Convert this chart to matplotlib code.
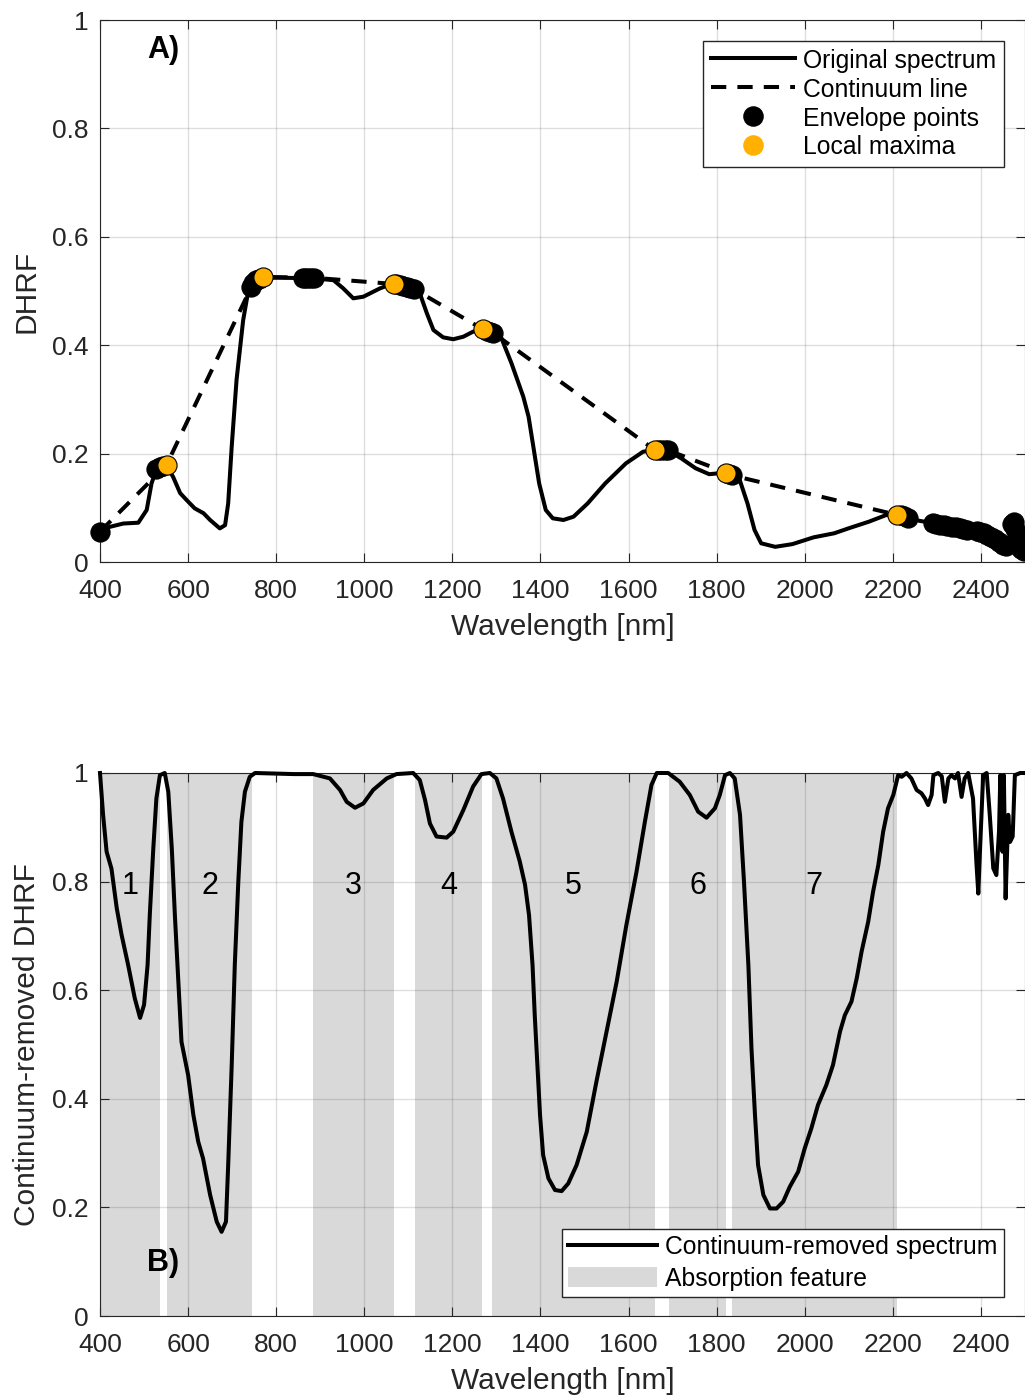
import matplotlib
matplotlib.use("Agg")
import matplotlib.pyplot as plt
from matplotlib.patches import Patch
from matplotlib.lines import Line2D

plt.rcParams["font.family"] = ["Liberation Sans", "DejaVu Sans"]
plt.rcParams["lines.scale_dashes"] = False

# ---------------- data ----------------
# Original spectrum (wavelength in nm, DHRF)
wl_orig = [400, 423, 453, 487, 506, 517, 529, 551, 566, 582, 597, 615, 635, 650,
           672, 684, 691, 699, 710, 725, 737, 748, 771, 809, 884, 930, 952, 975,
           998, 1036, 1066, 1111, 1126, 1142, 1157, 1179, 1202, 1225, 1247, 1270,
           1286, 1310, 1334, 1361, 1373, 1385, 1397, 1412, 1428, 1452, 1475, 1507,
           1547, 1594, 1633, 1660, 1688, 1720, 1752, 1783, 1822, 1850, 1870, 1886,
           1901, 1933, 1972, 2020, 2067, 2099, 2146, 2185, 2209, 2235, 2260, 2290,
           2320, 2350, 2370, 2390, 2400, 2420, 2430, 2445, 2460, 2474, 2485, 2500]
dhrf = [0.056, 0.065, 0.071, 0.0725, 0.096, 0.145, 0.173, 0.179, 0.157, 0.127,
        0.114, 0.099, 0.090, 0.0775, 0.062, 0.068, 0.108, 0.213, 0.336, 0.446,
        0.502, 0.517, 0.5245, 0.5245, 0.5234, 0.520, 0.505, 0.4865, 0.4895, 0.505,
        0.514, 0.505, 0.496, 0.459, 0.428, 0.4145, 0.411, 0.4157, 0.425, 0.4293,
        0.425, 0.4157, 0.367, 0.305, 0.268, 0.2066, 0.145, 0.096, 0.0806, 0.0775,
        0.0836, 0.108, 0.145, 0.182, 0.2035, 0.2066, 0.2066, 0.191, 0.173, 0.162,
        0.165, 0.157, 0.108, 0.059, 0.0345, 0.028, 0.033, 0.0455, 0.053, 0.062,
        0.0745, 0.0867, 0.0867, 0.082, 0.076, 0.072, 0.066, 0.064, 0.058, 0.045,
        0.056, 0.050, 0.040, 0.035, 0.030, 0.072, 0.026, 0.020]

# Continuum (upper hull) vertices
cont_wl = [400, 551, 748, 769, 885, 1067, 1112, 1270, 1292, 1659, 1690, 1822,
           1834, 2209, 2235, 2290, 2352, 2398, 2456, 2474, 2498]
cont_val = [0.056, 0.179, 0.515, 0.526, 0.5244, 0.513, 0.504, 0.429, 0.423,
            0.207, 0.206, 0.165, 0.160, 0.087, 0.082, 0.072, 0.063, 0.056,
            0.030, 0.074, 0.020]

# Envelope points
env_wl = [400, 528, 536, 544, 742, 748, 755, 762, 860, 866, 872, 878, 885,
          1072, 1080, 1088, 1096, 1104, 1112, 1278, 1285, 1292, 1666, 1674,
          1682, 1690, 1828, 1834, 2218, 2226, 2235, 2290, 2298, 2306, 2316,
          2324, 2334, 2344, 2352, 2360, 2368, 2390, 2398, 2406, 2414, 2422,
          2432, 2442, 2450, 2456, 2470, 2474, 2478, 2482, 2486, 2492, 2498]
env_val = [0.056, 0.172, 0.176, 0.178, 0.508, 0.515, 0.520, 0.523, 0.5245,
           0.5245, 0.5245, 0.5245, 0.5244, 0.512, 0.511, 0.509, 0.507, 0.506,
           0.504, 0.427, 0.425, 0.423, 0.207, 0.207, 0.207, 0.206, 0.162, 0.160,
           0.086, 0.084, 0.082, 0.072, 0.071, 0.069, 0.068, 0.066, 0.065, 0.064,
           0.063, 0.061, 0.059, 0.058, 0.056, 0.054, 0.050, 0.046, 0.042, 0.036,
           0.032, 0.030, 0.070, 0.074, 0.060, 0.045, 0.030, 0.024, 0.020]

# Local maxima
max_wl = [551, 769, 1067, 1270, 1659, 1822, 2209]
max_val = [0.179, 0.526, 0.513, 0.429, 0.207, 0.165, 0.087]

# Continuum-removed spectrum
cr_wl = [400, 407, 415, 426, 438, 449, 464, 479, 491, 500, 508, 513, 521, 528,
         536, 547, 555, 563, 570, 578, 585, 600, 612, 623, 634, 650, 665, 676,
         686, 691, 699, 706, 714, 721, 729, 740, 752, 840, 884, 922, 945, 960,
         979, 998, 1020, 1051, 1073, 1111, 1126, 1138, 1149, 1164, 1187, 1202,
         1225, 1247, 1266, 1285, 1300, 1315, 1334, 1353, 1365, 1374, 1382, 1387,
         1393, 1399, 1406, 1418, 1433, 1448, 1463, 1482, 1505, 1527, 1550, 1573,
         1595, 1618, 1637, 1652, 1664, 1690, 1716, 1739, 1758, 1777, 1796, 1807,
         1819, 1830, 1841, 1853, 1862, 1872, 1879, 1887, 1894, 1906, 1921, 1936,
         1951, 1966, 1985, 2000, 2015, 2030, 2049, 2064, 2080, 2091, 2106, 2118,
         2129, 2144, 2155, 2167, 2178, 2189, 2201, 2212, 2220, 2231, 2242, 2254,
         2265, 2273, 2280, 2288, 2292, 2303, 2311, 2318, 2326, 2333, 2341, 2348,
         2356, 2363, 2371, 2382, 2390, 2394, 2398, 2405, 2413, 2420, 2428, 2435,
         2441, 2444, 2449, 2452, 2456, 2462, 2466, 2472, 2477, 2489, 2500]
cr_val = [1.0, 0.923, 0.855, 0.824, 0.751, 0.702, 0.646, 0.585, 0.549, 0.573,
          0.646, 0.738, 0.861, 0.953, 0.996, 1.0, 0.9655, 0.861, 0.738, 0.6157,
          0.505, 0.444, 0.370, 0.321, 0.290, 0.223, 0.1737, 0.155, 0.1737, 0.278,
          0.462, 0.646, 0.800, 0.910, 0.9655, 0.993, 1.0, 0.998, 0.998, 0.990,
          0.9687, 0.947, 0.936, 0.944, 0.9687, 0.990, 0.998, 1.0, 0.987, 0.950,
          0.907, 0.883, 0.881, 0.892, 0.932, 0.975, 0.998, 1.0, 0.990, 0.953,
          0.892, 0.837, 0.794, 0.7385, 0.646, 0.554, 0.462, 0.370, 0.2965,
          0.2536, 0.232, 0.230, 0.244, 0.278, 0.339, 0.4315, 0.5236, 0.6157,
          0.720, 0.818, 0.910, 0.978, 1.0, 1.0, 0.984, 0.9595, 0.9287, 0.9177,
          0.935, 0.9595, 0.996, 1.0, 0.990, 0.923, 0.800, 0.646, 0.493, 0.370,
          0.278, 0.223, 0.198, 0.198, 0.2105, 0.238, 0.2657, 0.309, 0.3457,
          0.3886, 0.4254, 0.462, 0.5236, 0.554, 0.579, 0.622, 0.671, 0.726,
          0.781, 0.8306, 0.892, 0.935, 0.9595, 0.996, 0.993, 1.0, 0.990, 0.9687,
          0.9626, 0.953, 0.941, 0.9595, 0.996, 1.0, 0.994, 0.947, 0.990, 0.996,
          0.990, 1.0, 0.956, 0.990, 1.0, 0.953, 0.8306, 0.778, 0.861, 0.996,
          1.0, 0.923, 0.8245, 0.812, 0.892, 0.996, 0.855, 0.996, 0.769, 0.923,
          0.873, 0.883, 0.996, 1.0, 1.0]

# Absorption features (start, end in nm)
feat_start = [400, 551, 884, 1115, 1290, 1691, 1834]
feat_end = [536, 746, 1068, 1267, 1660, 1822, 2209]
feat_labels = ["1", "2", "3", "4", "5", "6", "7"]

# ---------------- styling ----------------
AX_COL = "#262626"
ORANGE = "#FFB000"
GRAY = "#d9d9d9"
TICK_FS = 19
LABEL_FS = 21.5
LEG_FS = 17.8
LW = 2.9

fig = plt.figure(figsize=(10.25, 13.96), dpi=100)
axA = fig.add_axes([100 / 1025, 1 - 562 / 1396, 925 / 1025, 542 / 1396])
axB = fig.add_axes([100 / 1025, 1 - 1316 / 1396, 925 / 1025, 543 / 1396])


def style_axes(ax):
    ax.set_xlim(400, 2500)
    ax.set_ylim(0, 1)
    ax.set_xticks(range(400, 2401, 200))
    ax.set_yticks([0, 0.2, 0.4, 0.6, 0.8, 1])
    ax.set_yticklabels(["0", "0.2", "0.4", "0.6", "0.8", "1"])
    ax.grid(True, color=AX_COL, alpha=0.15, lw=1)
    ax.set_axisbelow("line")
    ax.tick_params(direction="in", length=6.5, width=0.8, top=True, right=True,
                   labelsize=TICK_FS, colors=AX_COL)
    ax.tick_params(axis="x", pad=12.5)
    ax.tick_params(axis="y", pad=8)
    for s in ax.spines.values():
        s.set_color(AX_COL)
        s.set_linewidth(0.8)
    ax.set_xlabel("Wavelength [nm]", fontsize=LABEL_FS, color=AX_COL)
    ax.xaxis.set_label_coords(0.5, -0.094)


def make_legend(ax, handles, labels, anchor, borderpad, labelspacing,
                handlelength):
    leg = ax.legend(handles, labels, loc="upper right", bbox_to_anchor=anchor,
                    borderaxespad=0, fontsize=LEG_FS, handlelength=handlelength,
                    handleheight=0.85, handletextpad=0.35,
                    labelspacing=labelspacing, borderpad=borderpad,
                    fancybox=False, framealpha=1, edgecolor=AX_COL)
    leg.get_frame().set_linewidth(1.0)
    return leg


# ---------------- panel A ----------------
style_axes(axA)
axA.plot(wl_orig, dhrf, color="k", lw=LW, zorder=3)
axA.plot(cont_wl, cont_val, color="k", lw=LW, dashes=(11, 8), zorder=4)
axA.plot(env_wl, env_val, "o", color="k", ms=13.8, mec="k", mew=0.8,
         zorder=5, clip_on=False)
axA.plot(max_wl, max_val, "o", color=ORANGE, ms=13.8, mec="k", mew=0.8,
         zorder=6)
axA.set_ylabel("DHRF", fontsize=LABEL_FS, color=AX_COL)
axA.yaxis.set_label_coords(-0.064, 0.5)
axA.text(544, 0.945, "A)", fontsize=22, fontweight="bold", ha="center",
         va="center", color="k")

make_legend(axA,
            [Line2D([], [], color="k", lw=LW),
             Line2D([], [], color="k", lw=LW, dashes=(11, 8)),
             Line2D([], [], ls="none", marker="o", color="k", ms=13.8),
             Line2D([], [], ls="none", marker="o", color=ORANGE, ms=13.8,
                    mec=ORANGE)],
            ["Original spectrum", "Continuum line", "Envelope points",
             "Local maxima"],
            (0.9773, 0.9613), borderpad=0.31, labelspacing=0.2,
            handlelength=3.4)

# ---------------- panel B ----------------
style_axes(axB)
for s, e in zip(feat_start, feat_end):
    axB.axvspan(s, e, color=GRAY, lw=0, zorder=1)
axB.plot(cr_wl, cr_val, color="k", lw=LW, zorder=3, clip_on=False)
for s, e, lab in zip(feat_start, feat_end, feat_labels):
    axB.text((s + e) / 2, 0.792, lab, fontsize=22, ha="center", va="center",
             color="k", zorder=4)
axB.set_ylabel("Continuum-removed DHRF", fontsize=LABEL_FS, color=AX_COL)
axB.yaxis.set_label_coords(-0.064, 0.5)
axB.text(544, 0.097, "B)", fontsize=22, fontweight="bold", ha="center",
         va="center", color="k")

make_legend(axB,
            [Line2D([], [], color="k", lw=LW),
             Patch(facecolor=GRAY, edgecolor="none")],
            ["Continuum-removed spectrum", "Absorption feature"],
            (0.9773, 0.1602), borderpad=0.25, labelspacing=0.3,
            handlelength=3.6)

fig.savefig("out.png", dpi=100)
